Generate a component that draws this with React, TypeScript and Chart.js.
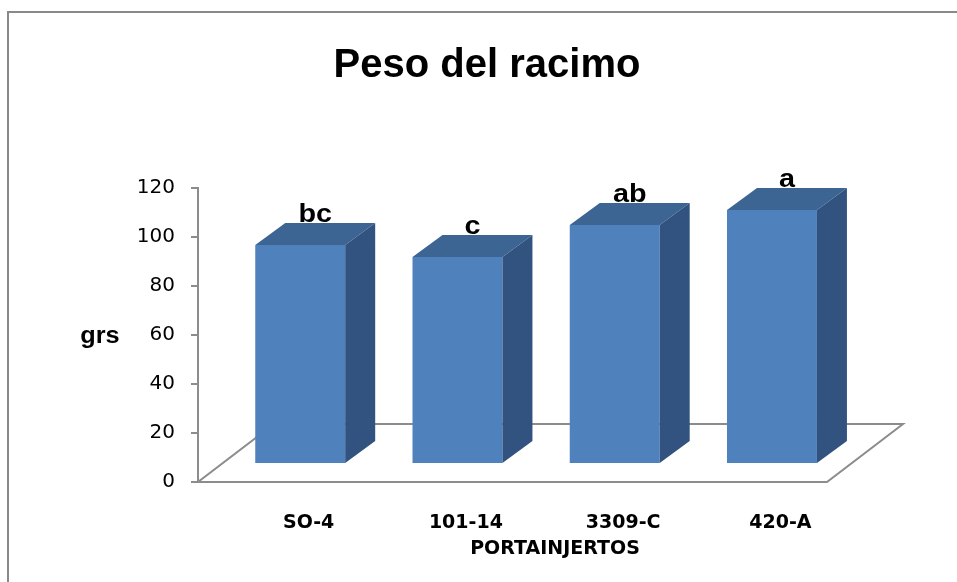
import React, { useEffect, useRef } from "react";
import { Chart, registerables } from "chart.js";

Chart.register(...registerables);

const categories = ["SO-4", "101-14", "3309-C", "420-A"];
const pesoRacimo = [89.4, 84.5, 97.6, 103.7];
const significance = ["bc", "c", "ab", "a"];
const yMin = 0;
const yMax = 120;
const yStep = 20;
const chartTitle = "Peso del racimo";
const yAxisTitle = "grs";
const xAxisTitle = "PORTAINJERTOS";

const FRONT = "#4F81BD";
const TOP = "#3D6593";
const SIDE = "#32537F";
const AXIS = "#8C8C8C";
const BAR_SHIFT_X = 23.6;
const BAR_SHIFT_Y = -18;
const BAR_DEPTH_X = 30;
const BAR_DEPTH_Y = -22;
const FLOOR_DEPTH_X = 76;
const FLOOR_DEPTH_Y = -58;

function stretchedText(ctx: CanvasRenderingContext2D, text: string, x: number, y: number, sx: number) {
  ctx.save();
  ctx.translate(x, y);
  ctx.scale(sx, 1);
  ctx.textAlign = "center";
  ctx.fillText(text, 0, 0);
  ctx.restore();
}

const plugin3d = {
  id: "bars3d",
  beforeDraw(chart: any) {
    const ctx: CanvasRenderingContext2D = chart.ctx;
    ctx.save();
    ctx.strokeStyle = "#898989";
    ctx.lineWidth = 2;
    ctx.beginPath();
    ctx.moveTo(8, 582);
    ctx.lineTo(8, 12);
    ctx.lineTo(957, 12);
    ctx.stroke();

    ctx.fillStyle = "#000";
    ctx.textBaseline = "middle";
    ctx.font = "bold 40px 'Liberation Sans', Arial, sans-serif";
    stretchedText(ctx, chartTitle, 487, 66, 1);
    ctx.font = "bold 23px 'Liberation Sans', Arial, sans-serif";
    stretchedText(ctx, yAxisTitle, 100, 337, 1.1);
    ctx.font = "bold 19px 'DejaVu Sans', sans-serif";
    stretchedText(ctx, xAxisTitle, 555, 549, 1);
    ctx.restore();
  },
  beforeDatasetsDraw(chart: any) {
    const ctx: CanvasRenderingContext2D = chart.ctx;
    const a = chart.chartArea;
    ctx.save();
    ctx.strokeStyle = AXIS;
    ctx.lineWidth = 2;
    ctx.lineJoin = "miter";
    ctx.beginPath();
    ctx.moveTo(a.left, a.bottom);
    ctx.lineTo(a.right, a.bottom);
    ctx.lineTo(a.right + FLOOR_DEPTH_X, a.bottom + FLOOR_DEPTH_Y);
    ctx.lineTo(a.left + FLOOR_DEPTH_X, a.bottom + FLOOR_DEPTH_Y);
    ctx.closePath();
    ctx.stroke();
    ctx.restore();
    ctx.save();
    ctx.translate(BAR_SHIFT_X, BAR_SHIFT_Y);
  },
  afterDatasetsDraw(chart: any) {
    const ctx: CanvasRenderingContext2D = chart.ctx;
    ctx.restore();
    const meta = chart.getDatasetMeta(0);
    ctx.save();
    meta.data.forEach((el: any, i: number) => {
      const p = el.getProps(["x", "y", "base", "width"], true);
      const l = p.x - p.width / 2 + BAR_SHIFT_X;
      const r = p.x + p.width / 2 + BAR_SHIFT_X;
      const t = p.y + BAR_SHIFT_Y;
      const b = p.base + BAR_SHIFT_Y;
      ctx.fillStyle = TOP;
      ctx.beginPath();
      ctx.moveTo(l, t);
      ctx.lineTo(l + BAR_DEPTH_X, t + BAR_DEPTH_Y);
      ctx.lineTo(r + BAR_DEPTH_X, t + BAR_DEPTH_Y);
      ctx.lineTo(r, t);
      ctx.closePath();
      ctx.fill();
      ctx.fillStyle = SIDE;
      ctx.beginPath();
      ctx.moveTo(r, t);
      ctx.lineTo(r + BAR_DEPTH_X, t + BAR_DEPTH_Y);
      ctx.lineTo(r + BAR_DEPTH_X, b + BAR_DEPTH_Y);
      ctx.lineTo(r, b);
      ctx.closePath();
      ctx.fill();
      ctx.fillStyle = "#000";
      ctx.textBaseline = "alphabetic";
      ctx.font = "bold 25px 'Liberation Sans', Arial, sans-serif";
      stretchedText(ctx, significance[i], p.x + BAR_SHIFT_X + BAR_DEPTH_X / 2, t + BAR_DEPTH_Y - 1, 1.15);
    });
    ctx.restore();
  },
};

export default function App() {
  const ref = useRef<HTMLCanvasElement | null>(null);
  useEffect(() => {
    if (!ref.current) return;
    const chart = new Chart(ref.current, {
      type: "bar",
      data: {
        labels: categories,
        datasets: [
          {
            label: chartTitle,
            data: pesoRacimo,
            backgroundColor: FRONT,
            borderWidth: 0,
            categoryPercentage: 1,
            barPercentage: 0.572,
          },
        ],
      },
      options: {
        responsive: false,
        animation: false,
        devicePixelRatio: 1,
        layout: { padding: { top: 188, right: 130, left: 0, bottom: 0 } },
        plugins: {
          legend: { display: false },
          title: { display: false },
          tooltip: { enabled: false },
        },
        scales: {
          x: {
            grid: { display: false },
            border: { display: false },
            ticks: {
              color: "#000",
              font: { family: "'DejaVu Sans', sans-serif", weight: "bold", size: 19 },
              labelOffset: 32,
              padding: 22,
              maxRotation: 0,
            },
            afterFit(s: any) {
              s.height = 100;
            },
          },
          y: {
            min: yMin,
            max: yMax,
            grid: { drawOnChartArea: false, drawTicks: true, tickLength: 7, color: AXIS, lineWidth: 2 },
            border: { display: true, color: AXIS, width: 2 },
            ticks: {
              stepSize: yStep,
              padding: 16,
              color: "#000",
              font: { family: "'DejaVu Sans', sans-serif", size: 20 },
            },
            afterFit(s: any) {
              s.width = 198;
            },
          },
        },
      },
      plugins: [plugin3d],
    });
    return () => chart.destroy();
  }, []);
  return (
    <div style={{ position: "absolute", left: 0, top: 0, width: 957, height: 582, background: "#fff" }}>
      <canvas ref={ref} width={957} height={582} />
    </div>
  );
}
